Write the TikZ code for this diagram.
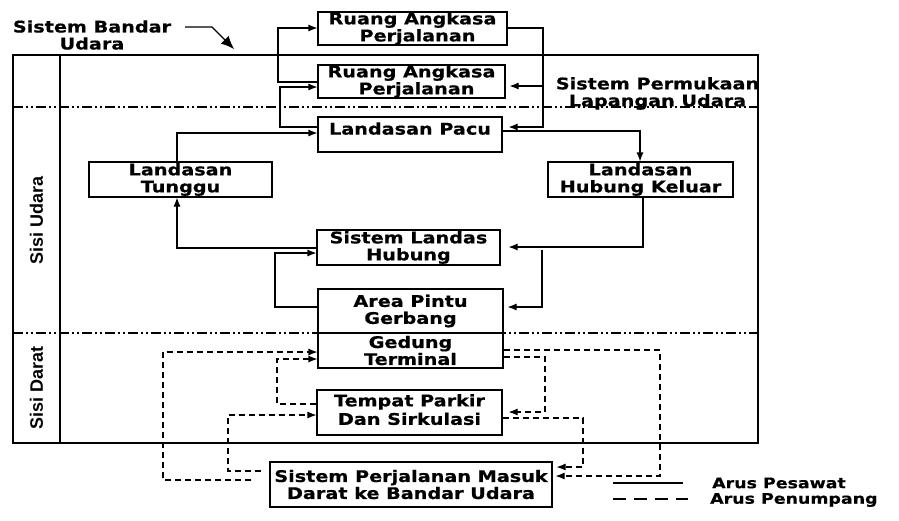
\documentclass[tikz,border=0pt]{standalone}
\usepackage{fontspec}
\usetikzlibrary{arrows.meta}
\newfontfamily\boxfont{DejaVu Sans}[FakeStretch=1.2, FakeBold=0.6]
\newfontfamily\sidefont{Liberation Sans}
\begin{document}
\begin{tikzpicture}[x=1pt,y=-1pt,
  box/.style={draw, line width=1.1pt, fill=white, inner sep=0pt, align=center,
    font={\boxfont\bfseries\fontsize{16pt}{17pt}\selectfont}},
  lbl/.style={inner sep=0pt, align=center, font={\boxfont\bfseries\fontsize{16pt}{17pt}\selectfont}},
  leg/.style={inner sep=0pt, font={\boxfont\bfseries\fontsize{14.5pt}{16pt}\selectfont}},
  side/.style={inner sep=0pt, rotate=90, font={\sidefont\bfseries\fontsize{18pt}{20pt}\selectfont}},
  flow/.style={line width=1.1pt, -{Latex[length=9pt,width=7pt]}},
  pflow/.style={line width=1.1pt, dash pattern=on 6pt off 4pt, -{Latex[length=9pt,width=7pt]}},
  frameline/.style={line width=2.4pt},
  divider/.style={line width=1.4pt, dash pattern=on 10pt off 3pt on 2pt off 3pt on 2pt off 3pt}
]
\useasboundingbox (0,0) rectangle (899,520);

% ---- frame ----
\draw[frameline] (13,55) rectangle (758,443);
\draw[frameline] (60,55) -- (60,443);
\draw[divider] (13,107) -- (758,107);
\draw[divider] (13,333) -- (758,333);

% ---- side labels ----
\node[side] (sisiU) at (36.5,220) {Sisi Udara};
\node[side] (sisiD) at (36.5,388) {Sisi Darat};

% ---- title labels ----
\node[lbl] (sbu) at (92,35) {Sistem Bandar\\Udara};
\coordinate (sb1) at (185,27);
\coordinate (sb2) at (212,27);
\coordinate (sb3) at (234,49);
\draw[line width=1.2pt, -{Latex[length=13pt,width=11pt]}] (sb1) -- (sb2) -- (sb3);

\node[lbl] (spl) at (657.5,93.5) {Sistem Permukaan\\Lapangan Udara};

% ---- boxes ----
\node[box, minimum width=189pt, minimum height=33pt] (ra1) at (412.5,28.5) {Ruang Angkasa\\\hspace*{10pt}Perjalanan};
\node[box, minimum width=187pt, minimum height=33pt] (ra2) at (411.5,81.5) {Ruang Angkasa\\\hspace*{10pt}Perjalanan};
\node[box, minimum width=184pt, minimum height=35pt] (pacu) at (410,134.5) {\raisebox{12pt}{Landasan Pacu}};
\node[box, minimum width=183pt, minimum height=35pt] (tunggu) at (180.5,179.5) {Landasan\\Tunggu};
\node[box, minimum width=185pt, minimum height=35pt] (keluar) at (640.5,179.5) {Landasan\\Hubung Keluar};
\node[box, minimum width=183pt, minimum height=35pt] (landas) at (408.5,247.5) {Sistem Landas\\Hubung};
\node[box, minimum width=185pt, minimum height=44pt] (area) at (410.5,311) {Area Pintu\\Gerbang};
\node[box, minimum width=185pt, minimum height=35pt] (gedung) at (410.5,350.5) {Gedung\\Terminal};
\node[box, minimum width=185pt, minimum height=45pt] (tempat) at (409.5,412.5) {\raisebox{6pt}{\shortstack{Tempat Parkir\\Dan Sirkulasi}}};
\node[box, minimum width=282pt, minimum height=45pt] (masuk) at (411,484.5) {Sistem Perjalanan Masuk\\Darat ke Bandar Udara};

% ---- aircraft flow (solid) ----
\coordinate (cL1) at (278,28);
\coordinate (cL2) at (278,82);
\coordinate (cL3) at (280,87);
\coordinate (cL4) at (280,127);
\draw[flow] (ra2.west |- cL2) -- (cL2) -- (cL1) -- (ra1.west |- cL1);
\draw[flow] (pacu.west |- cL4) -- (cL4) -- (cL3) -- (ra2.west |- cL3);
\coordinate (cT) at (177,133);
\draw[flow] (tunggu.north -| cT) -- (cT) -- (pacu.west |- cT);

\coordinate (cR1) at (543,28);
\coordinate (cR2) at (543,86);
\coordinate (cR3) at (543,127);
\draw[flow, shorten >=4pt] (ra1.east |- cR1) -- (cR1) -- (cR2) -- (ra2.east |- cR2);
\draw[flow, shorten >=6pt] (cR2) -- (cR3) -- (pacu.east |- cR3);

\coordinate (cK) at (640,131);
\draw[flow] (pacu.east |- cK) -- (cK) -- (keluar.north -| cK);
\coordinate (cK2) at (643,247);
\draw[flow, shorten >=8pt] (keluar.south -| cK2) -- (cK2) -- (landas.east |- cK2);
\coordinate (cA) at (542,250);
\coordinate (cA2) at (542,307);
\draw[flow, shorten >=4pt] (cA) -- (cA2) -- (area.east |- cA2);

\coordinate (cB) at (275,307);
\coordinate (cB2) at (275,253);
\draw[flow] (area.west |- cB) -- (cB) -- (cB2) -- (landas.west |- cB2);
\coordinate (cC) at (177,248);
\draw[flow] (landas.west |- cC) -- (cC) -- (tunggu.south -| cC);

% ---- passenger flow (dashed) ----
\coordinate (d1) at (163,480);
\coordinate (d2) at (163,352);
\draw[pflow, shorten <=18pt] (masuk.west |- d1) -- (d1) -- (d2) -- (gedung.west |- d2);
\coordinate (d3) at (228,471);
\coordinate (d4) at (228,415);
\draw[pflow, shorten <=8pt] (masuk.west |- d3) -- (d3) -- (d4) -- (tempat.west |- d4);
\coordinate (d5) at (277,404);
\coordinate (d6) at (277,359);
\draw[pflow] (tempat.west |- d5) -- (d5) -- (d6) -- (gedung.west |- d6);

\coordinate (e1) at (660,350);
\coordinate (e2) at (660,476);
\draw[pflow, shorten >=3pt] (gedung.east |- e1) -- (e1) -- (e2) -- (masuk.east |- e2);
\coordinate (e3) at (545,357);
\coordinate (e4) at (545,412);
\draw[pflow, shorten >=6pt] (gedung.east |- e3) -- (e3) -- (e4) -- (tempat.east |- e4);
\coordinate (e5) at (583,418);
\coordinate (e6) at (583,467);
\draw[pflow, shorten >=4pt] (tempat.east |- e5) -- (e5) -- (e6) -- (masuk.east |- e6);

% ---- legend ----
\coordinate (la1) at (613,483);
\coordinate (la2) at (683,483);
\draw[line width=1.1pt] (la1) -- (la2);
\node[leg, anchor=west] (lgA) at (712,483) {Arus Pesawat};
\coordinate (lb1) at (613,499);
\coordinate (lb2) at (688,499);
\draw[line width=1.1pt, dash pattern=on 13pt off 8pt] (lb1) -- (lb2);
\node[leg, anchor=west] (lgB) at (710,500) {Arus Penumpang};
\end{tikzpicture}
\end{document}
